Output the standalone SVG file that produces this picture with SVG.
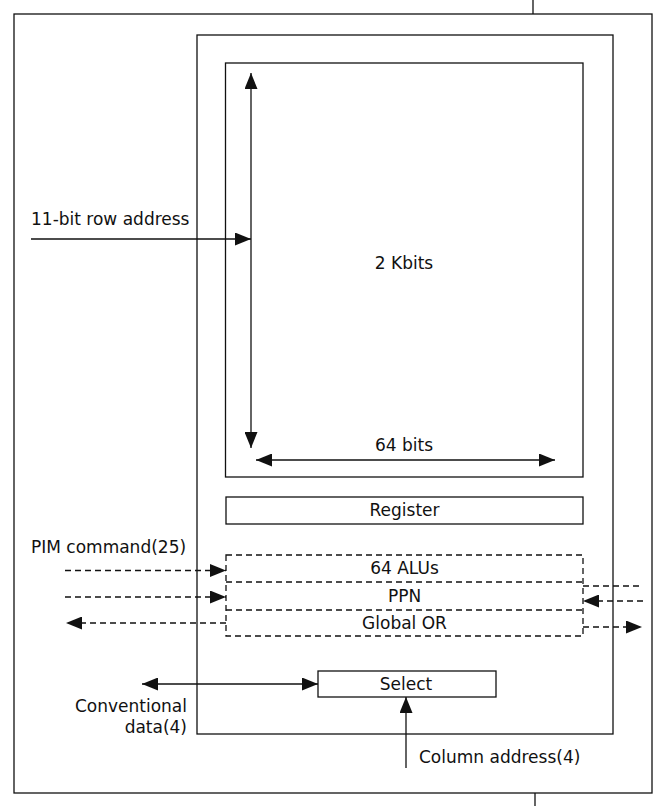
<svg xmlns="http://www.w3.org/2000/svg" width="672" height="806" viewBox="0 0 672 806">
<style>
  .box { fill: none; stroke: #111; stroke-width: 1.3; }
  .dbox { fill: none; stroke: #111; stroke-width: 1.3; stroke-dasharray: 6 4; }
  .ln { fill: none; stroke: #111; stroke-width: 1.3; }
  .dl { fill: none; stroke: #111; stroke-width: 1.3; stroke-dasharray: 6 4; }
  .t { font-family: "DejaVu Sans", "Liberation Sans", sans-serif; font-size: 17px; fill: #111; }
  .c { text-anchor: middle; }
  .e { text-anchor: end; }
</style>
<defs>
  <marker id="ah" viewBox="0 0 16 13" refX="16" refY="6.5" markerWidth="16" markerHeight="13" markerUnits="userSpaceOnUse" orient="auto-start-reverse">
    <path d="M0,0 L16,6.5 L0,13 z" fill="#111"/>
  </marker>
</defs>
<rect width="672" height="806" fill="#fff"/>

<g id="frame">
  <rect class="box" x="14" y="14" width="638" height="779"/>
  <line class="ln" x1="533" y1="0" x2="533" y2="14"/>
  <line class="ln" x1="535" y1="793" x2="535" y2="806"/>
</g>

<g id="chip">
  <rect class="box" x="197" y="35" width="416" height="699"/>
</g>

<g id="memory">
  <rect class="box" x="225.5" y="63" width="357.5" height="414"/>
  <text class="t c" x="404" y="269">2 Kbits</text>
  <text class="t c" x="404" y="451">64 bits</text>
</g>

<g id="register">
  <rect class="box" x="226" y="497" width="357" height="27"/>
  <text class="t c" x="404.5" y="516">Register</text>
</g>

<g id="alu-block">
  <rect class="dbox" x="226" y="555" width="357" height="81"/>
  <g id="alus">
    <text class="t c" x="404.5" y="574">64 ALUs</text>
  </g>
  <g id="ppn">
    <line class="dl" x1="226" y1="582" x2="583" y2="582"/>
    <text class="t c" x="404.5" y="601.5">PPN</text>
  </g>
  <g id="globalor">
    <line class="dl" x1="226" y1="610" x2="583" y2="610"/>
    <text class="t c" x="404.5" y="628.5">Global OR</text>
  </g>
</g>

<g id="select">
  <rect class="box" x="318" y="671" width="178" height="26"/>
  <text class="t c" x="406" y="690">Select</text>
</g>

<g id="labels">
  <text class="t" x="31" y="225">11-bit row address</text>
  <text class="t" x="31" y="553">PIM command(25)</text>
  <text class="t e" x="187" y="712">Conventional</text>
  <text class="t e" x="187" y="733">data(4)</text>
  <text class="t" x="419" y="763">Column address(4)</text>
</g>

<g id="connectors">
  <line class="ln" x1="251" y1="73" x2="251" y2="448" marker-start="url(#ah)" marker-end="url(#ah)"/>
  <line class="ln" x1="256" y1="460" x2="555" y2="460" marker-start="url(#ah)" marker-end="url(#ah)"/>
  <line class="ln" x1="31" y1="239" x2="251" y2="239" marker-end="url(#ah)"/>
  <line class="dl" x1="65" y1="570.5" x2="226" y2="570.5" marker-end="url(#ah)"/>
  <line class="dl" x1="65" y1="597" x2="226" y2="597" marker-end="url(#ah)"/>
  <line class="dl" x1="226" y1="623" x2="66" y2="623" marker-end="url(#ah)"/>
  <line class="dl" x1="583" y1="586" x2="643" y2="586"/>
  <line class="dl" x1="643" y1="601" x2="583" y2="601" marker-end="url(#ah)"/>
  <line class="dl" x1="583" y1="627" x2="642" y2="627" marker-end="url(#ah)"/>
  <line class="ln" x1="142" y1="684" x2="318" y2="684" marker-start="url(#ah)" marker-end="url(#ah)"/>
  <line class="ln" x1="406" y1="768" x2="406" y2="697" marker-end="url(#ah)"/>
</g>
</svg>
